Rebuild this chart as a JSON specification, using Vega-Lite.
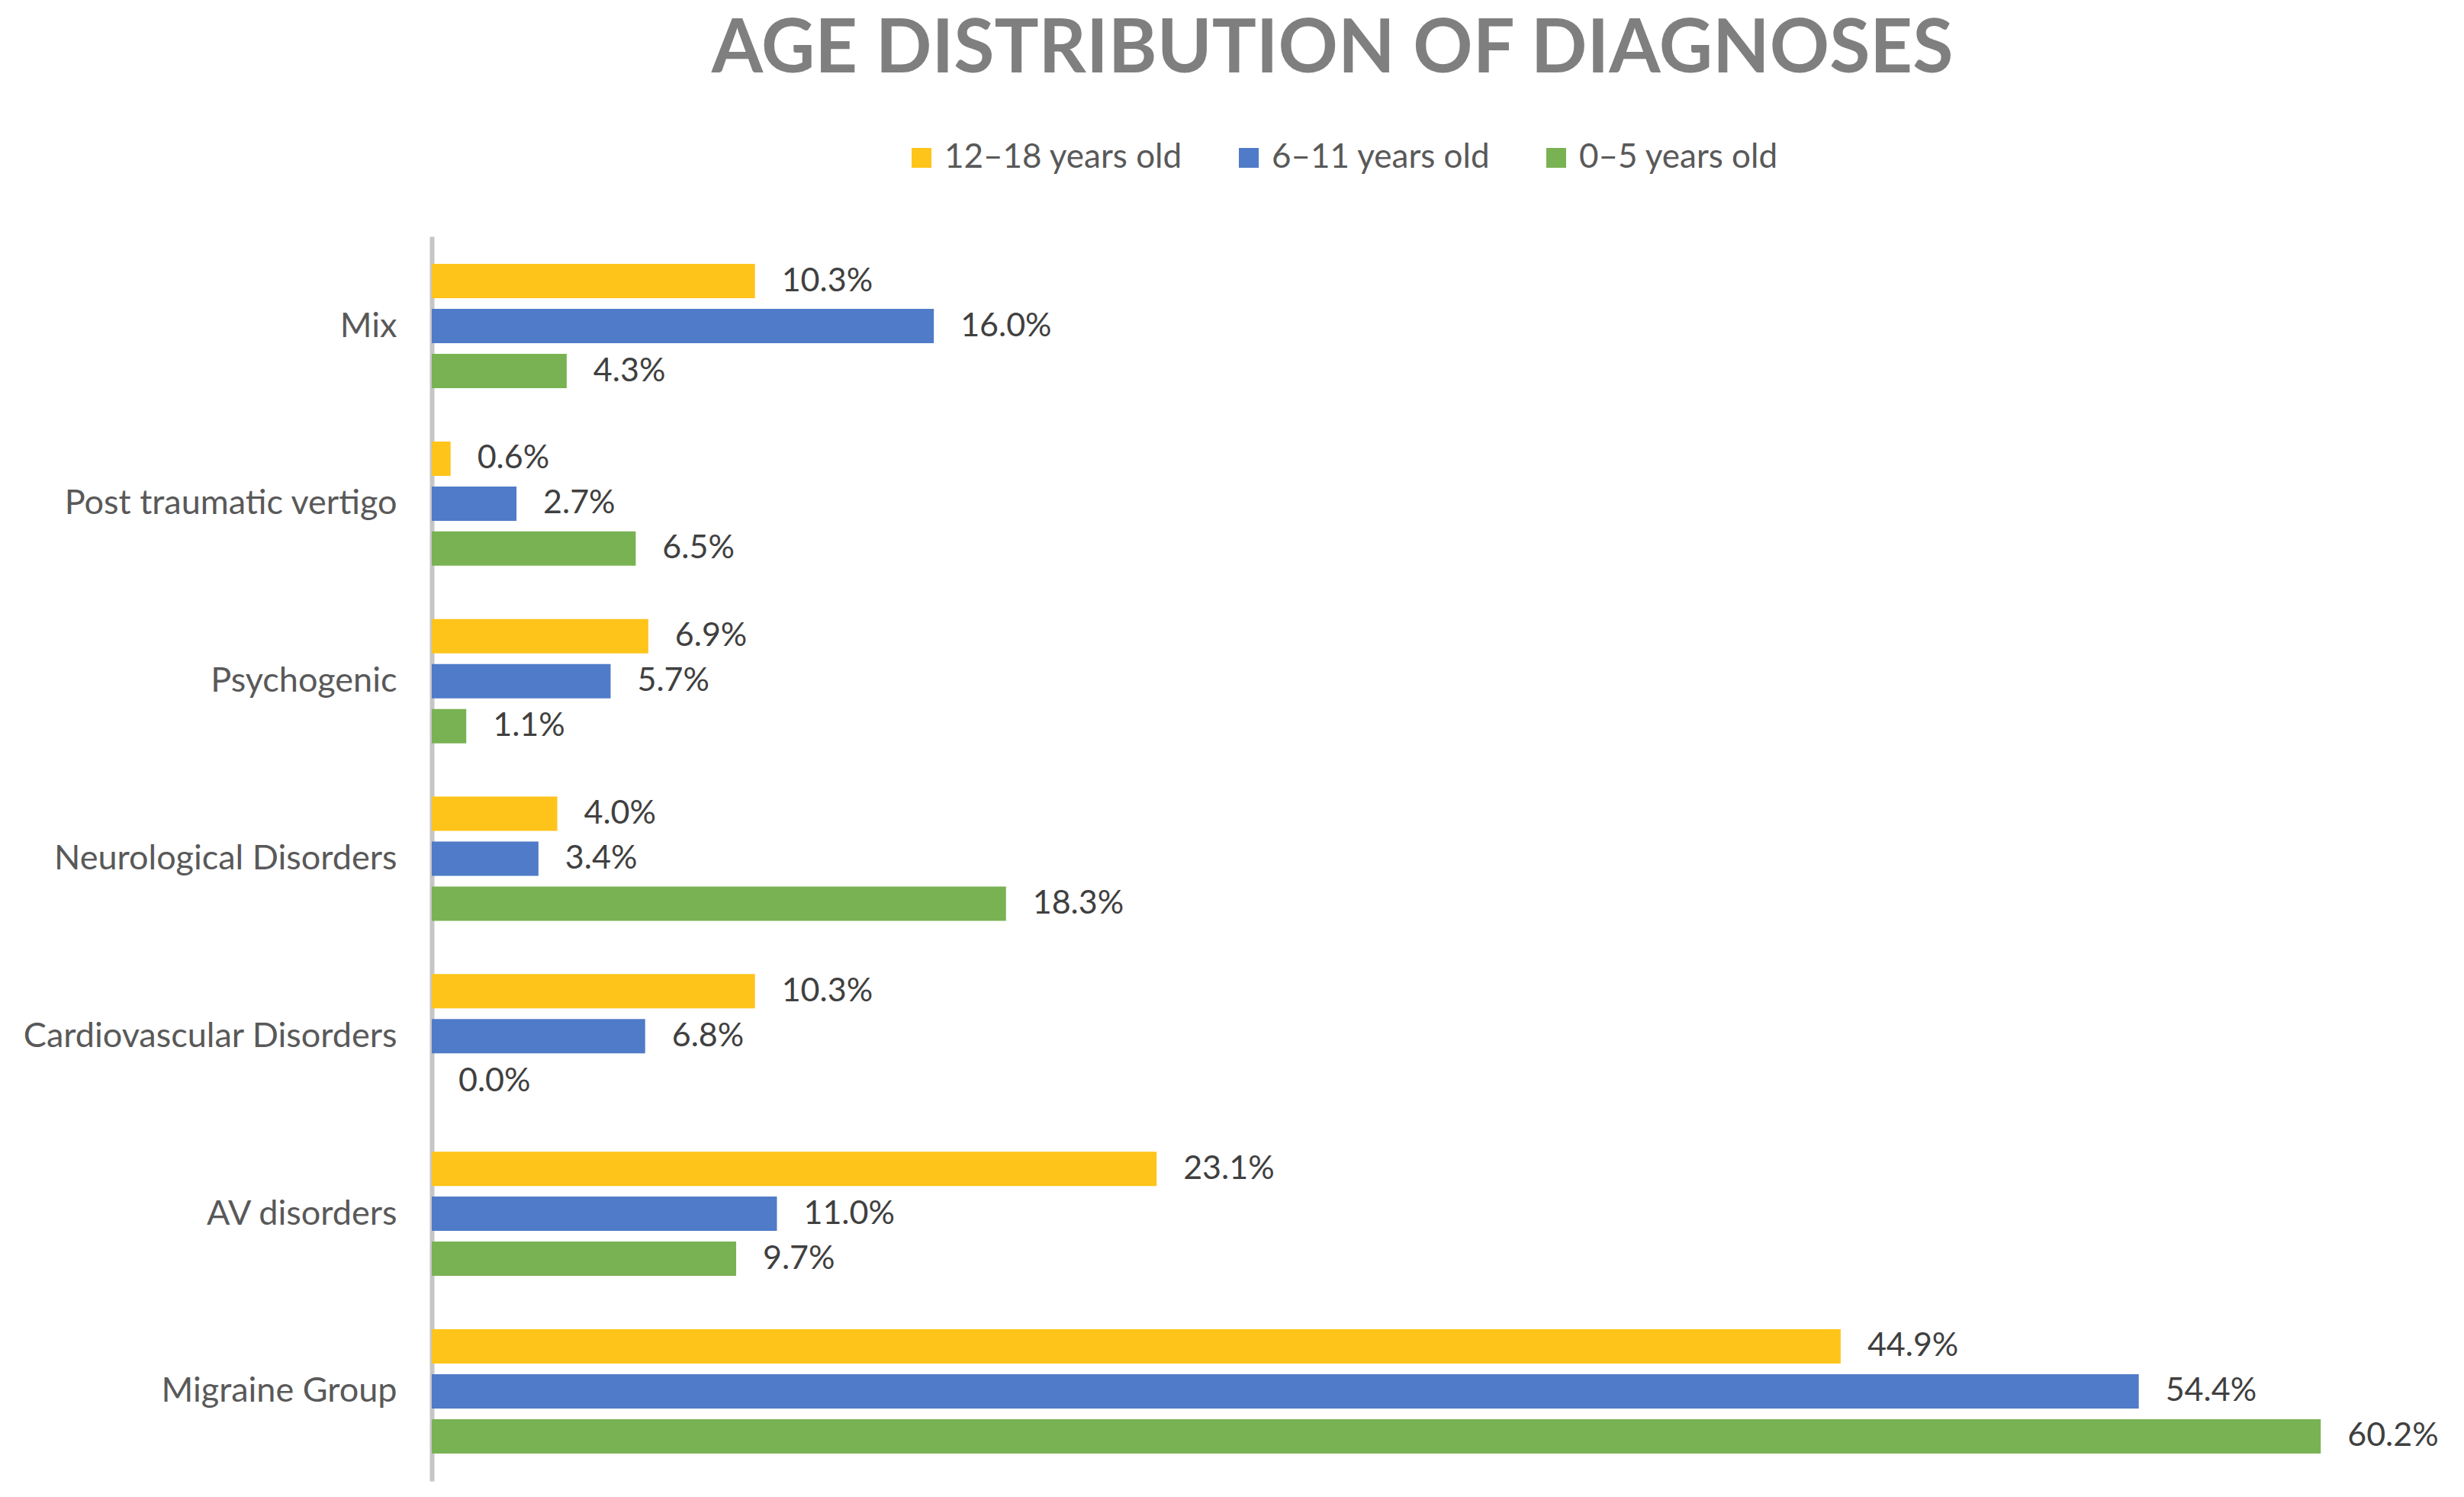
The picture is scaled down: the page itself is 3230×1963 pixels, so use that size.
{
  "$schema": "https://vega.github.io/schema/vega-lite/v6.json",
  "width": 2649,
  "height": 1632,
  "autosize": {"type": "none"},
  "padding": {"left": 566, "top": 310, "right": 15, "bottom": 21},
  "background": "white",
  "title": {
    "text": "AGE DISTRIBUTION OF DIAGNOSES",
    "anchor": "middle",
    "frame": "group",
    "dx": -144,
    "dy": 100,
    "offset": 73,
    "baseline": "bottom",
    "fontSize": 97,
    "font": "Lato",
    "fontWeight": "bold",
    "color": "#7f7f7f"
  },
  "data": {
    "values": [
      {"diagnosis": "Mix", "age": "12–18 years old", "pct": 0.103},
      {"diagnosis": "Mix", "age": "6–11 years old", "pct": 0.160},
      {"diagnosis": "Mix", "age": "0–5 years old", "pct": 0.043},
      {"diagnosis": "Post traumatic vertigo", "age": "12–18 years old", "pct": 0.006},
      {"diagnosis": "Post traumatic vertigo", "age": "6–11 years old", "pct": 0.027},
      {"diagnosis": "Post traumatic vertigo", "age": "0–5 years old", "pct": 0.065},
      {"diagnosis": "Psychogenic", "age": "12–18 years old", "pct": 0.069},
      {"diagnosis": "Psychogenic", "age": "6–11 years old", "pct": 0.057},
      {"diagnosis": "Psychogenic", "age": "0–5 years old", "pct": 0.011},
      {"diagnosis": "Neurological Disorders", "age": "12–18 years old", "pct": 0.040},
      {"diagnosis": "Neurological Disorders", "age": "6–11 years old", "pct": 0.034},
      {"diagnosis": "Neurological Disorders", "age": "0–5 years old", "pct": 0.183},
      {"diagnosis": "Cardiovascular Disorders", "age": "12–18 years old", "pct": 0.103},
      {"diagnosis": "Cardiovascular Disorders", "age": "6–11 years old", "pct": 0.068},
      {"diagnosis": "Cardiovascular Disorders", "age": "0–5 years old", "pct": 0.0},
      {"diagnosis": "AV disorders", "age": "12–18 years old", "pct": 0.231},
      {"diagnosis": "AV disorders", "age": "6–11 years old", "pct": 0.110},
      {"diagnosis": "AV disorders", "age": "0–5 years old", "pct": 0.097},
      {"diagnosis": "Migraine Group", "age": "12–18 years old", "pct": 0.449},
      {"diagnosis": "Migraine Group", "age": "6–11 years old", "pct": 0.544},
      {"diagnosis": "Migraine Group", "age": "0–5 years old", "pct": 0.602}
    ]
  },
  "encoding": {
    "y": {
      "field": "diagnosis",
      "type": "nominal",
      "sort": ["Mix", "Post traumatic vertigo", "Psychogenic", "Neurological Disorders", "Cardiovascular Disorders", "AV disorders", "Migraine Group"],
      "scale": {"paddingInner": 0.3, "paddingOuter": 0.155},
      "axis": {
        "title": null,
        "ticks": false,
        "grid": false,
        "domainColor": "#c6c6c6",
        "domainWidth": 6,
        "labelPadding": 46,
        "labelLimit": 0,
        "labelFont": "Lato",
        "labelFontSize": 45,
        "labelColor": "#595959"
      }
    },
    "yOffset": {
      "field": "age",
      "type": "nominal",
      "sort": ["12–18 years old", "6–11 years old", "0–5 years old"],
      "scale": {"paddingInner": 0.237}
    },
    "x": {
      "field": "pct",
      "type": "quantitative",
      "scale": {"domain": [0, 0.644], "nice": false},
      "axis": null
    }
  },
  "layer": [
    {
      "mark": {"type": "bar"},
      "encoding": {
        "color": {
          "field": "age",
          "type": "nominal",
          "scale": {
            "domain": ["12–18 years old", "6–11 years old", "0–5 years old"],
            "range": ["#FFC41A", "#4F7BC8", "#79B253"]
          },
          "legend": {
            "title": null,
            "orient": "none",
            "legendX": 620,
            "legendY": -125,
            "padding": 0,
            "direction": "horizontal",
            "symbolType": "square",
            "symbolSize": 676,
            "symbolStrokeWidth": 0,
            "labelFont": "Lato",
            "labelFontSize": 44,
            "labelLimit": 0,
            "labelColor": "#595959",
            "labelOffset": 8,
            "columnPadding": 64
          }
        }
      }
    },
    {
      "mark": {
        "type": "text",
        "align": "left",
        "baseline": "middle",
        "dx": 35,
        "font": "Lato",
        "fontSize": 43,
        "color": "#404040"
      },
      "encoding": {
        "text": {"field": "pct", "type": "quantitative", "format": ".1%"}
      }
    }
  ],
  "config": {"view": {"stroke": null}}
}
